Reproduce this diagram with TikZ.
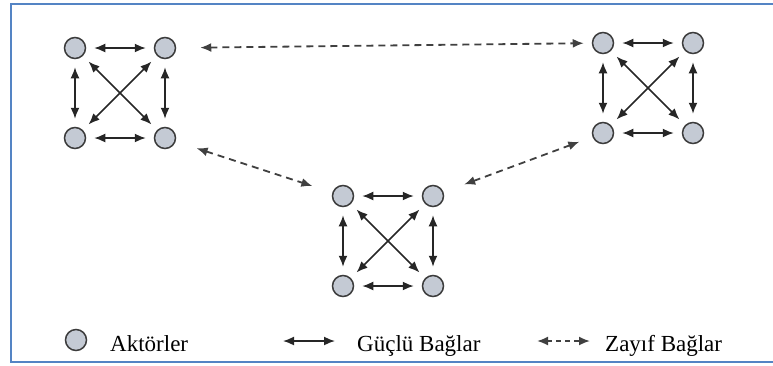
\documentclass[tikz,border=0pt]{standalone}
\usepackage{fontspec}
\setmainfont{Liberation Serif}
\usetikzlibrary{positioning,arrows.meta}
\definecolor{framecol}{RGB}{84,132,196}
\definecolor{actorfill}{RGB}{196,202,212}
\definecolor{actorline}{RGB}{60,60,60}

\begin{document}
\begin{tikzpicture}[x=1pt,y=-1pt,>={Latex[length=11pt,width=9pt]},
    node distance=90pt,on grid,
    actor/.style={circle,draw=actorline,fill=actorfill,line width=1.5pt,minimum size=21pt,inner sep=0pt},
    strong/.style={<->,draw=black!85,line width=1.6pt,shorten <=8pt,shorten >=8pt},
    weak/.style={<->,draw=black!75,dash pattern=on 7pt off 5pt,line width=1.8pt},
    legend text/.style={anchor=base west,font=\fontsize{23}{28}\selectfont,inner sep=0pt}]

\useasboundingbox (0,0) rectangle (773,365);
\draw[framecol,line width=1.6pt] (11,4) rectangle (790,362);

% left group
\node[actor] (a1) at (75,48) {};
\node[actor] (a2) [right=of a1] {};
\node[actor] (a3) [below=of a1] {};
\node[actor] (a4) [right=of a3] {};

% right group
\node[actor] (b1) at (603,43) {};
\node[actor] (b2) [right=of b1] {};
\node[actor] (b3) [below=of b1] {};
\node[actor] (b4) [right=of b3] {};

% middle group
\node[actor] (c1) at (343,196) {};
\node[actor] (c2) [right=of c1] {};
\node[actor] (c3) [below=of c1] {};
\node[actor] (c4) [right=of c3] {};

\foreach \g in {a,b,c}{
  \draw[strong] (\g1) -- (\g2);
  \draw[strong] (\g3) -- (\g4);
  \draw[strong] (\g1) -- (\g3);
  \draw[strong] (\g2) -- (\g4);
  \draw[strong] (\g1) -- (\g4);
  \draw[strong] (\g2) -- (\g3);
}

% weak ties between groups
\draw[weak,shorten <=24pt,shorten >=8pt] (a2) -- (b1);
\draw[weak,shorten <=22pt,shorten >=21pt] (a4) -- (c1);
\draw[weak,shorten <=22pt,shorten >=14pt] (c2) -- (b3);

% legend
\node[actor] (key) at (76,340) {};
\node[legend text] (keytext) at (110,351) {Aktörler};
\coordinate (s1) at (283,341);
\coordinate (s2) at (335,341);
\draw[<->,draw=black!85,line width=1.6pt] (s1) -- (s2);
\node[legend text] (strongtext) at (357,351) {Güçlü Bağlar};
\coordinate (w1) at (537,341);
\coordinate (w2) at (590,341);
\draw[weak,dash pattern=on 5pt off 4pt] (w1) -- (w2);
\node[legend text] (weaktext) at (605,351) {Zayıf Bağlar};
\end{tikzpicture}
\end{document}
